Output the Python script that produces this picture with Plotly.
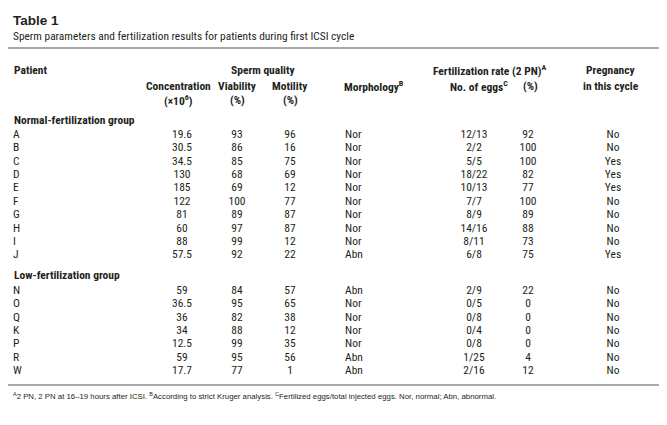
import plotly.graph_objects as go

# ---------------- data ----------------
normal_patients = ["A", "B", "C", "D", "E", "F", "G", "H", "I", "J"]
normal_conc = ["19.6", "30.5", "34.5", "130", "185", "122", "81", "60", "88", "57.5"]
normal_viab = ["93", "86", "85", "68", "69", "100", "89", "97", "99", "92"]
normal_motil = ["96", "16", "75", "69", "12", "77", "87", "87", "12", "22"]
normal_morph = ["Nor", "Nor", "Nor", "Nor", "Nor", "Nor", "Nor", "Nor", "Nor", "Abn"]
normal_eggs = ["12/13", "2/2", "5/5", "18/22", "10/13", "7/7", "8/9", "14/16", "8/11", "6/8"]
normal_rate = ["92", "100", "100", "82", "77", "100", "89", "88", "73", "75"]
normal_preg = ["No", "No", "Yes", "Yes", "Yes", "No", "No", "No", "No", "Yes"]

low_patients = ["N", "O", "Q", "K", "P", "R", "W"]
low_conc = ["59", "36.5", "36", "34", "12.5", "59", "17.7"]
low_viab = ["84", "95", "82", "88", "99", "95", "77"]
low_motil = ["57", "65", "38", "12", "35", "56", "1"]
low_morph = ["Abn", "Nor", "Nor", "Nor", "Nor", "Abn", "Abn"]
low_eggs = ["2/9", "0/5", "0/8", "0/4", "0/8", "1/25", "2/16"]
low_rate = ["22", "0", "0", "0", "0", "4", "12"]
low_preg = ["No", "No", "No", "No", "No", "No", "No"]

title = "Table 1"
subtitle = "Sperm parameters and fertilization results for patients during first ICSI cycle"
group_labels = ["Normal-fertilization group", "Low-fertilization group"]
footnote = ("<sup>A</sup>2 PN, 2 PN at 16–19 hours after ICSI. "
            "<sup>B</sup>According to strict Kruger analysis. "
            "<sup>C</sup>Fertilized eggs/total injected eggs. Nor, normal; Abn, abnormal.")

# ---------------- layout (pixel coordinates) ----------------
W, H = 667, 425
COND = "Roboto Condensed, Liberation Sans, sans-serif"
REG = "Liberation Sans, Arial, sans-serif"
TXT = "#231f20"
BODY = 11.5
HEAD = 11.5

col_x = {"patient": 5, "conc": 174, "viab": 229, "motil": 282, "morph": 337,
         "eggs": 466, "rate": 520, "preg": 605}
col_pos = {"patient": "middle right", "conc": "middle center", "viab": "middle center",
           "motil": "middle center", "morph": "middle right", "eggs": "middle center",
           "rate": "middle center", "preg": "middle center"}

normal_y0, normal_step = 127, 13.4
low_y0, low_step = 283, 13.35

fig = go.Figure()

def add_block(cols, y0, step):
    n = len(cols["patient"])
    ys = [y0 + i * step for i in range(n)]
    for key, vals in cols.items():
        fig.add_trace(go.Scatter(
            x=[col_x[key]] * n, y=ys, text=vals, mode="text",
            textposition=col_pos[key],
            textfont=dict(family=COND, size=BODY, color=TXT),
            hoverinfo="skip", showlegend=False))

add_block({"patient": normal_patients, "conc": normal_conc, "viab": normal_viab,
           "motil": normal_motil, "morph": normal_morph, "eggs": normal_eggs,
           "rate": normal_rate, "preg": normal_preg}, normal_y0, normal_step)
add_block({"patient": low_patients, "conc": low_conc, "viab": low_viab,
           "motil": low_motil, "morph": low_morph, "eggs": low_eggs,
           "rate": low_rate, "preg": low_preg}, low_y0, low_step)

ann = []
def A(x, y, text, xanchor="left", font=None):
    ann.append(dict(x=x, y=y, xref="x", yref="y", text=text, showarrow=False,
                    xanchor=xanchor, yanchor="middle",
                    font=font or dict(family=COND, size=HEAD, color=TXT)))

bold = lambda s: "<b>" + s + "</b>"
A(3, 12, bold(title), font=dict(family=REG, size=13.5, color=TXT))
A(3, 28, subtitle, font=dict(family=COND, size=11.4, color=TXT))

A(4, 62, bold("Patient"))
A(255, 62, bold("Sperm quality"), "center")
A(170, 78, bold("Concentration"), "center")
A(170, 92, bold("(×10<sup>6</sup>)"), "center")
A(col_x["viab"], 78, bold("Viability"), "center")
A(col_x["viab"], 92, bold("(%)"), "center")
A(col_x["motil"], 78, bold("Motility"), "center")
A(col_x["motil"], 92, bold("(%)"), "center")
A(col_x["morph"] - 3, 78, bold("Morphology<sup>B</sup>"))
A(540, 62, bold("Fertilization rate (2 PN)<sup>A</sup>"), "right")
A(471, 78, bold("No. of eggs<sup>C</sup>"), "center")
A(522, 78, bold("(%)"), "center")
A(603, 62, bold("Pregnancy"), "center")
A(603, 78, bold("in this cycle"), "center")

A(4, 112, bold(group_labels[0]))
A(4, 267, bold(group_labels[1]))

A(3, 388, footnote, font=dict(family=REG, size=7.8, color=TXT))

shapes = [
    dict(type="line", xref="x", yref="y", x0=0, x1=652, y0=40, y1=40,
         line=dict(color="#aaaaaa", width=2)),
    dict(type="line", xref="x", yref="y", x0=0, x1=652, y0=377, y1=377,
         line=dict(color="#aaaaaa", width=2)),
]

fig.update_layout(
    width=W, height=H, margin=dict(l=0, r=0, t=0, b=0),
    paper_bgcolor="white", plot_bgcolor="white",
    xaxis=dict(range=[0, W], visible=False, fixedrange=True),
    yaxis=dict(range=[H, 0], visible=False, fixedrange=True),
    annotations=ann, shapes=shapes, showlegend=False,
)

fig.write_html("out.html", config={"displayModeBar": False})
